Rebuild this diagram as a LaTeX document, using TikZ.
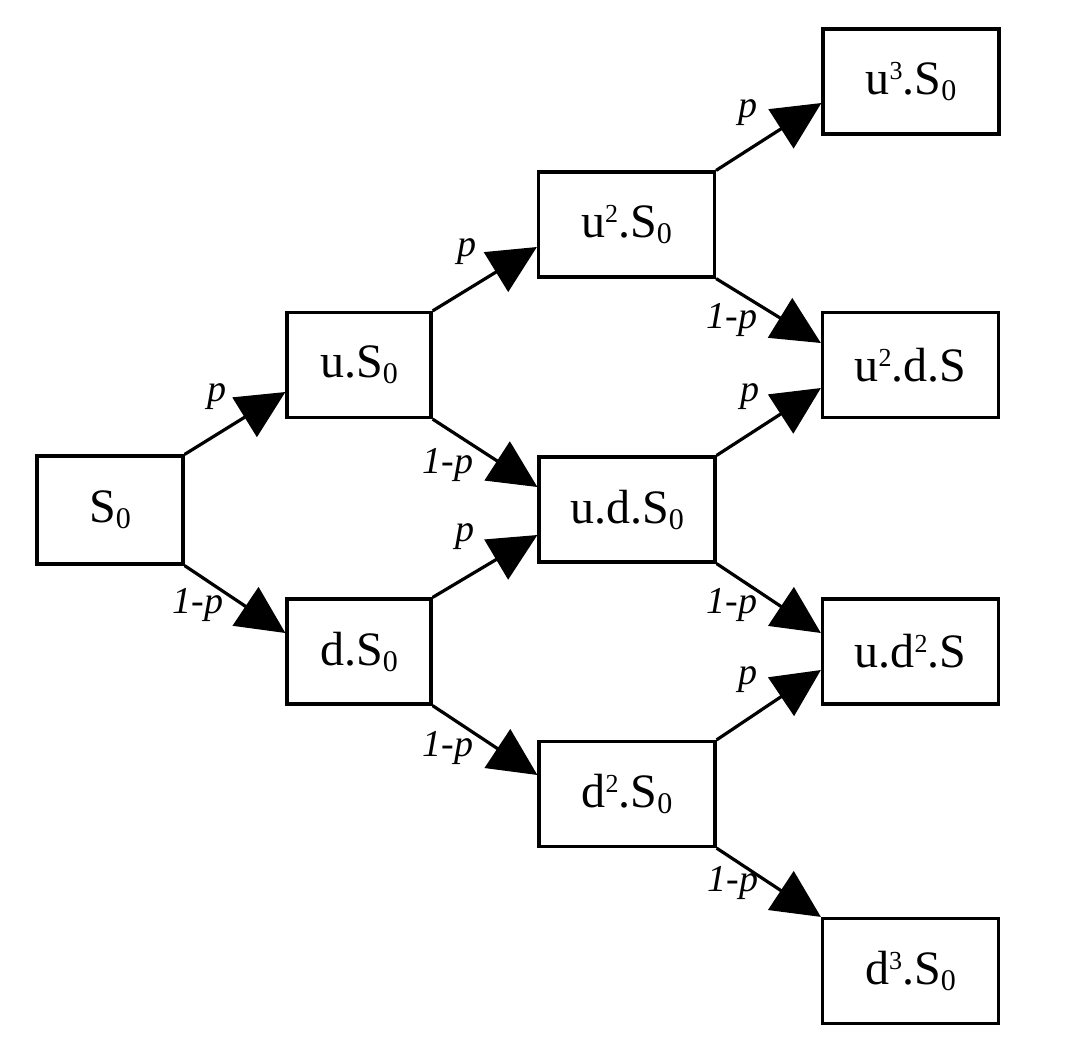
\documentclass[tikz,border=0pt]{standalone}
\usepackage{fontspec}
\setmainfont{Liberation Serif}
\usetikzlibrary{arrows.meta,calc}
\newcommand{\zsub}{\raisebox{-3pt}{\fontsize{15}{15}\selectfont 0}}
\newcommand{\zsup}[1]{\raisebox{7.5pt}{\fontsize{13}{13}\selectfont #1}}
\begin{document}
\begin{tikzpicture}[x=0.5pt,y=-0.5pt,
  box/.style={draw, line width=1.6pt, rectangle, inner sep=0pt,
    font=\fontsize{24}{28}\selectfont, minimum height=52.5pt},
  narrow/.style={minimum width=72pt},
  wide/.style={minimum width=88pt},
  arr/.style={line width=1.6pt, -{Triangle[length=24pt,width=23pt]}},
  lab/.style={font=\fontsize{19}{22}\selectfont\itshape, inner sep=0pt}]
\useasboundingbox (0,0) rectangle (1066,1056);
% boxes
\node[box, minimum width=73pt, minimum height=54pt] (S0) at (110,510) {S\zsub};
\node[box, narrow] (uS) at (359,365) {u.S\zsub};
\node[box, narrow] (dS) at (359,651.5) {d.S\zsub};
\node[box, wide] (uuS) at (626.5,224.5) {u\zsup{2}.S\zsub};
\node[box, wide] (udS) at (627,509.5) {u.d.S\zsub};
\node[box, wide] (ddS) at (627,794) {d\zsup{2}.S\zsub};
\node[box, wide] (uuuS) at (911,81.5) {u\zsup{3}.S\zsub};
\node[box, wide] (uudS) at (910.5,365) {u\zsup{2}.d.S};
\node[box, wide] (uddS) at (910.5,651.5) {u.d\zsup{2}.S};
\node[box, wide] (dddS) at (910.5,971) {d\zsup{3}.S\zsub};
% arrows
\draw[arr] (S0.north east) -- ($(uS.west)+(0,27)$);
\draw[arr] (S0.south east) -- ($(dS.west)+(0,-18.5)$);
\draw[arr] (uS.north east) -- ($(uuS.west)+(0,22.5)$);
\draw[arr] (uS.south east) -- ($(udS.west)+(0,-22.5)$);
\draw[arr] (dS.north east) -- ($(udS.west)+(0,25.5)$);
\draw[arr] (dS.south east) -- ($(ddS.west)+(0,-19)$);
\draw[arr] (uuS.north east) -- ($(uuuS.west)+(0,21.5)$);
\draw[arr] (uuS.south east) -- ($(uudS.west)+(0,-22)$);
\draw[arr] (udS.north east) -- ($(uudS.west)+(0,23)$);
\draw[arr] (udS.south east) -- ($(uddS.west)+(0,-18.5)$);
\draw[arr] (ddS.north east) -- ($(uddS.west)+(0,18.5)$);
\draw[arr] (ddS.south east) -- (dddS.north west);
% labels
\node[lab] (l1) at (217,397) {p};
\node[lab] (l2) at (198,605) {1-p};
\node[lab] (l3) at (467,252) {p};
\node[lab] (l4) at (448,465) {1-p};
\node[lab] (l5) at (465,537) {p};
\node[lab] (l6) at (448,748) {1-p};
\node[lab] (l7) at (748,113) {p};
\node[lab] (l8) at (732,320) {1-p};
\node[lab] (l9) at (750,397) {p};
\node[lab] (l10) at (732,605) {1-p};
\node[lab] (l11) at (748,680) {p};
\node[lab] (l12) at (733,883) {1-p};
\end{tikzpicture}
\end{document}
